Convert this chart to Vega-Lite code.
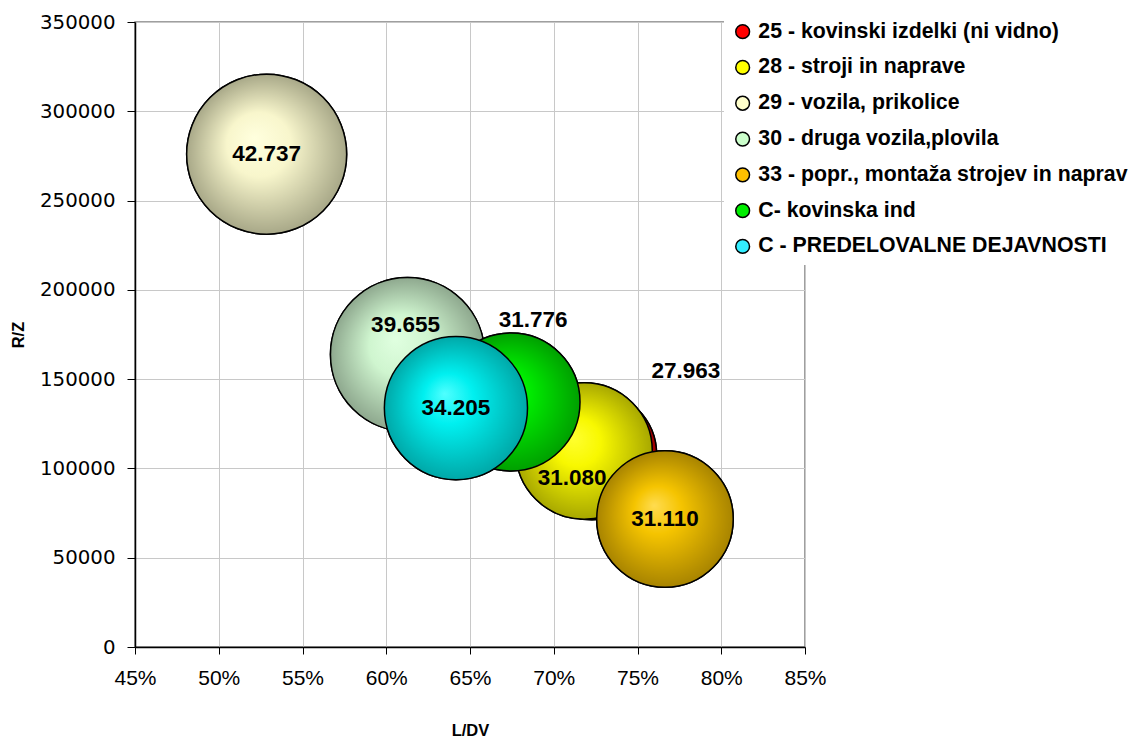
{
  "$schema": "https://vega.github.io/schema/vega-lite/v6.json",
  "width": 670,
  "height": 625,
  "autosize": {"type": "none"},
  "padding": {"left": 135, "top": 22, "right": 327, "bottom": 93},
  "background": "white",
  "config": {
    "view": {"stroke": "#808080", "strokeWidth": 1.5},
    "axis": {
      "gridColor": "#c8c8c8",
      "gridWidth": 1,
      "domainColor": "black",
      "domainWidth": 1.5,
      "tickColor": "black",
      "tickWidth": 1,
      "labelColor": "black",
      "titleColor": "black"
    }
  },
  "data": {
    "values": [
      {"series": "25 - kovinski izdelki (ni vidno)", "ldv": 0.7228, "rz": 107500, "val": 27.963, "label": "27.963"},
      {"series": "28 - stroji in naprave", "ldv": 0.7181, "rz": 109800, "val": 31.080, "label": "31.080"},
      {"series": "29 - vozila, prikolice", "ldv": 0.5286, "rz": 276000, "val": 42.737, "label": "42.737"},
      {"series": "30 - druga vozila,plovila", "ldv": 0.6127, "rz": 163800, "val": 39.655, "label": "39.655"},
      {"series": "33 - popr., montaža strojev in naprav", "ldv": 0.7664, "rz": 71700, "val": 31.110, "label": "31.110"},
      {"series": "C- kovinska ind", "ldv": 0.6745, "rz": 137200, "val": 31.776, "label": "31.776"},
      {"series": "C - PREDELOVALNE DEJAVNOSTI", "ldv": 0.6416, "rz": 133800, "val": 34.205, "label": "34.205"}
    ]
  },
  "encoding": {
    "x": {
      "field": "ldv", "type": "quantitative",
      "scale": {"domain": [0.45, 0.85], "nice": false, "zero": false},
      "axis": {
        "title": "L/DV", "format": ".0%", "values": [0.45, 0.5, 0.55, 0.6, 0.65, 0.7, 0.75, 0.8, 0.85],
        "labelFont": "Liberation Sans", "labelFontSize": 21, "labelPadding": 13, "tickSize": 7,
        "titleFont": "Liberation Sans", "titleFontSize": 16.5, "titleFontWeight": "bold", "titlePadding": 34,
        "labelFlush": false
      }
    },
    "y": {
      "field": "rz", "type": "quantitative",
      "scale": {"domain": [0, 350000], "nice": false},
      "axis": {
        "title": "R/Z", "format": "d", "values": [0, 50000, 100000, 150000, 200000, 250000, 300000, 350000],
        "labelFont": "DejaVu Sans", "labelFontSize": 19.8, "labelPadding": 12, "tickSize": 8,
        "titleFont": "Liberation Sans", "titleFontSize": 16.5, "titleFontWeight": "bold", "titlePadding": 13,
        "labelFlush": false
      }
    },
    "size": {
      "field": "val", "type": "quantitative",
      "scale": {"type": "linear", "domain": [0, 42.737], "range": [0, 25600], "zero": true},
      "legend": null
    }
  },
  "layer": [
    {
      "mark": {"type": "point", "shape": "circle", "filled": true, "opacity": 1, "stroke": "black", "strokeWidth": 1.5},
      "encoding": {
        "color": {
          "field": "series", "type": "nominal",
          "scale": {
            "domain": ["25 - kovinski izdelki (ni vidno)", "28 - stroji in naprave", "29 - vozila, prikolice", "30 - druga vozila,plovila", "33 - popr., montaža strojev in naprav", "C- kovinska ind", "C - PREDELOVALNE DEJAVNOSTI"],
            "range": ["#ff0000", "#ffff00", "#ffffcc", "#ccffcc", "#ffc000", "#00ee00", "#33eeff"]
          },
          "legend": {
            "title": null, "orient": "none", "legendX": 589, "legendY": -9,
            "fillColor": "white", "padding": 8, "symbolType": "circle", "symbolSize": 190,
            "symbolStrokeColor": "black", "symbolStrokeWidth": 1.5, "symbolOpacity": 1,
            "labelFont": "Liberation Sans", "labelFontSize": 21.3, "labelFontWeight": "bold", "labelColor": "black",
            "labelLimit": 500, "rowPadding": 13.8, "labelOffset": 5
          }
        }
      }
    },
    {
      "transform": [{"filter": "datum.series === '25 - kovinski izdelki (ni vidno)'"}],
      "mark": {"type": "point", "shape": "circle", "opacity": 1, "stroke": "black", "strokeWidth": 1.5,
        "fill": {"gradient": "radial", "x1": 0.42, "y1": 0.4, "r1": 0, "x2": 0.5, "y2": 0.5, "r2": 0.5,
          "stops": [{"offset": 0, "color": "#ff3030"}, {"offset": 0.35, "color": "#f00000"}, {"offset": 1, "color": "#a00000"}]}}
    },
    {
      "transform": [{"filter": "datum.series === '28 - stroji in naprave'"}],
      "mark": {"type": "point", "shape": "circle", "opacity": 1, "stroke": "black", "strokeWidth": 1.5,
        "fill": {"gradient": "radial", "x1": 0.42, "y1": 0.4, "r1": 0, "x2": 0.5, "y2": 0.5, "r2": 0.5,
          "stops": [{"offset": 0, "color": "#ffff30"}, {"offset": 0.35, "color": "#f8f800"}, {"offset": 1, "color": "#a8a800"}]}}
    },
    {
      "transform": [{"filter": "datum.series === '29 - vozila, prikolice'"}],
      "mark": {"type": "point", "shape": "circle", "opacity": 1, "stroke": "black", "strokeWidth": 1.5,
        "fill": {"gradient": "radial", "x1": 0.42, "y1": 0.4, "r1": 0, "x2": 0.5, "y2": 0.5, "r2": 0.5,
          "stops": [{"offset": 0, "color": "#ffffde"}, {"offset": 0.4, "color": "#f8f6cc"}, {"offset": 1, "color": "#a8a888"}]}}
    },
    {
      "transform": [{"filter": "datum.series === '30 - druga vozila,plovila'"}],
      "mark": {"type": "point", "shape": "circle", "opacity": 1, "stroke": "black", "strokeWidth": 1.5,
        "fill": {"gradient": "radial", "x1": 0.42, "y1": 0.4, "r1": 0, "x2": 0.5, "y2": 0.5, "r2": 0.5,
          "stops": [{"offset": 0, "color": "#e0ffe0"}, {"offset": 0.4, "color": "#cff5cf"}, {"offset": 1, "color": "#8ea88e"}]}}
    },
    {
      "transform": [{"filter": "datum.series === '33 - popr., montaža strojev in naprav'"}],
      "mark": {"type": "point", "shape": "circle", "opacity": 1, "stroke": "black", "strokeWidth": 1.5,
        "fill": {"gradient": "radial", "x1": 0.42, "y1": 0.4, "r1": 0, "x2": 0.5, "y2": 0.5, "r2": 0.5,
          "stops": [{"offset": 0, "color": "#ffdc50"}, {"offset": 0.35, "color": "#f5c400"}, {"offset": 1, "color": "#a88400"}]}}
    },
    {
      "transform": [{"filter": "datum.series === 'C- kovinska ind'"}],
      "mark": {"type": "point", "shape": "circle", "opacity": 1, "stroke": "black", "strokeWidth": 1.5,
        "fill": {"gradient": "radial", "x1": 0.42, "y1": 0.4, "r1": 0, "x2": 0.5, "y2": 0.5, "r2": 0.5,
          "stops": [{"offset": 0, "color": "#30ff30"}, {"offset": 0.35, "color": "#00ee00"}, {"offset": 1, "color": "#00a000"}]}}
    },
    {
      "transform": [{"filter": "datum.series === 'C - PREDELOVALNE DEJAVNOSTI'"}],
      "mark": {"type": "point", "shape": "circle", "opacity": 1, "stroke": "black", "strokeWidth": 1.5,
        "fill": {"gradient": "radial", "x1": 0.42, "y1": 0.4, "r1": 0, "x2": 0.5, "y2": 0.5, "r2": 0.5,
          "stops": [{"offset": 0, "color": "#50ffff"}, {"offset": 0.35, "color": "#00f0f0"}, {"offset": 1, "color": "#00a8a8"}]}}
    },
    {
      "transform": [{"filter": "datum.series === '29 - vozila, prikolice' || datum.series === 'C - PREDELOVALNE DEJAVNOSTI' || datum.series === '33 - popr., montaža strojev in naprav'"}],
      "mark": {"type": "text", "font": "Liberation Sans", "fontSize": 22.5, "fontWeight": "bold", "color": "black", "baseline": "middle", "align": "center"},
      "encoding": {"text": {"field": "label"}, "size": {"value": 22.5}}
    },
    {
      "transform": [{"filter": "datum.series === '30 - druga vozila,plovila'"}],
      "mark": {"type": "text", "font": "Liberation Sans", "fontSize": 22.5, "fontWeight": "bold", "color": "black", "baseline": "middle", "align": "center", "dx": -2, "dy": -30},
      "encoding": {"text": {"field": "label"}, "size": {"value": 22.5}}
    },
    {
      "transform": [{"filter": "datum.series === 'C- kovinska ind'"}],
      "mark": {"type": "text", "font": "Liberation Sans", "fontSize": 22.5, "fontWeight": "bold", "color": "black", "baseline": "middle", "align": "center", "dx": 22, "dy": -82},
      "encoding": {"text": {"field": "label"}, "size": {"value": 22.5}}
    },
    {
      "transform": [{"filter": "datum.series === '28 - stroji in naprave'"}],
      "mark": {"type": "text", "font": "Liberation Sans", "fontSize": 22.5, "fontWeight": "bold", "color": "black", "baseline": "middle", "align": "center", "dx": -12, "dy": 27},
      "encoding": {"text": {"field": "label"}, "size": {"value": 22.5}}
    },
    {
      "transform": [{"filter": "datum.series === '25 - kovinski izdelki (ni vidno)'"}],
      "mark": {"type": "text", "font": "Liberation Sans", "fontSize": 22.5, "fontWeight": "bold", "color": "black", "baseline": "middle", "align": "center", "dx": 94, "dy": -84},
      "encoding": {"text": {"field": "label"}, "size": {"value": 22.5}}
    }
  ]
}
